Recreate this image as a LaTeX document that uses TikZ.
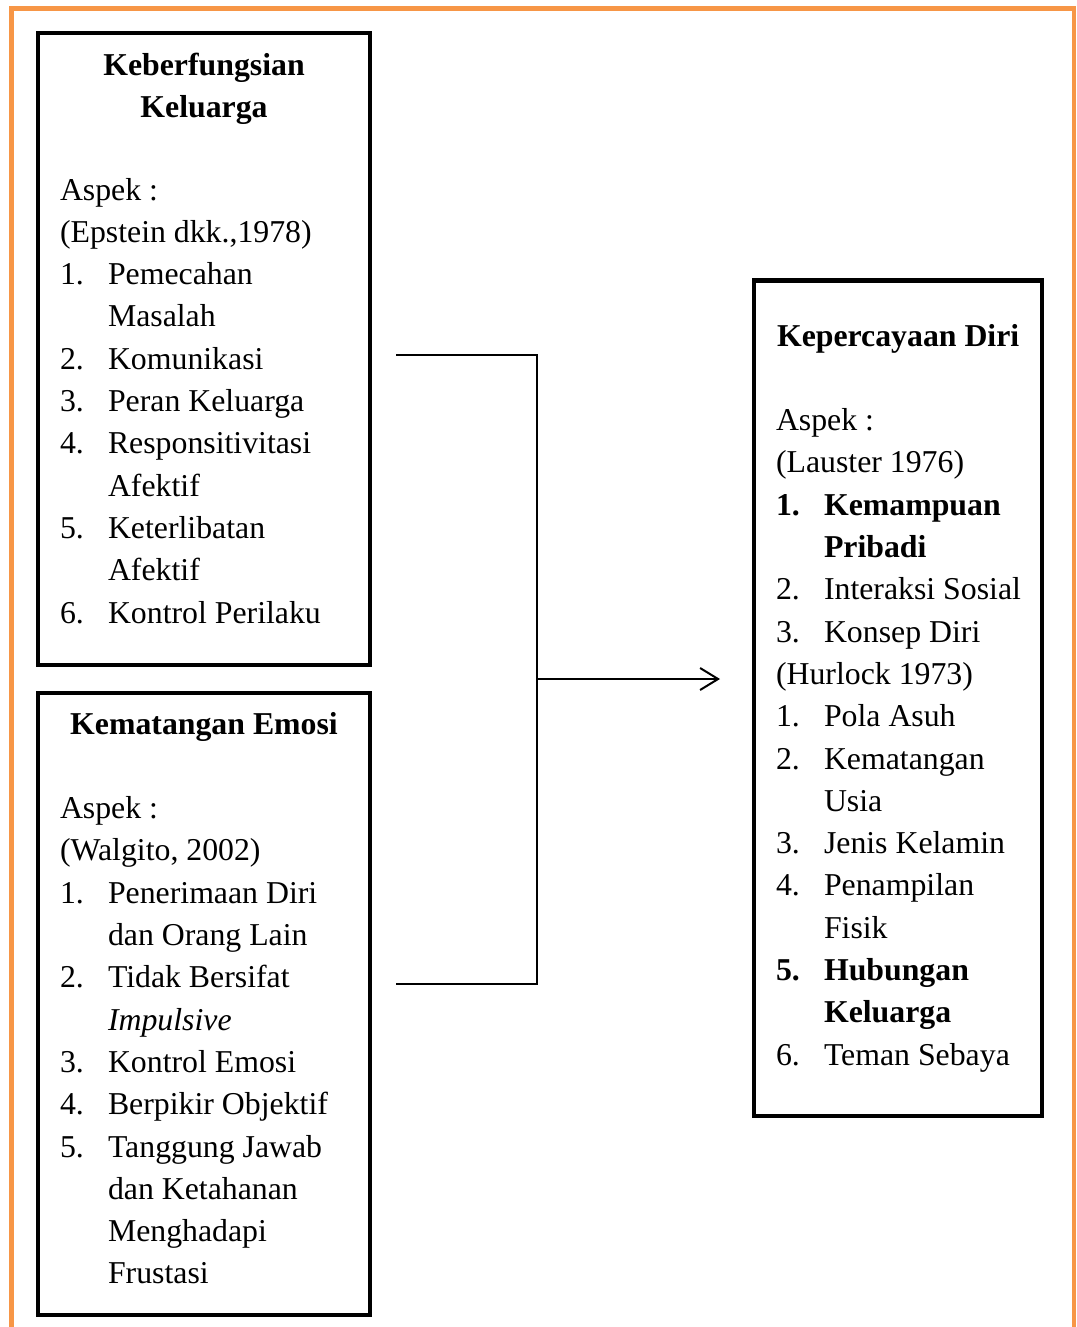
\documentclass[tikz,border=0pt]{standalone}
\usepackage{fontspec}
\setmainfont{Liberation Serif}
\usetikzlibrary{arrows.meta}
\definecolor{frameorange}{HTML}{F79646}
\begin{document}
\begin{tikzpicture}[x=1pt,y=-1pt,
  box/.style={draw=black,line width=4.5pt,inner sep=0pt,outer sep=0pt,rectangle},
  txt/.style={inner sep=0pt,outer sep=0pt,anchor=base west,font=\fontsize{31.8pt}{42.3pt}\selectfont},
  ttl/.style={inner sep=0pt,outer sep=0pt,anchor=base,font=\fontsize{31.8pt}{42.3pt}\selectfont\bfseries},
  bld/.style={txt,font=\fontsize{31.8pt}{42.3pt}\selectfont\bfseries},
  conn/.style={draw=black,line width=2pt},
  frame/.style={draw=frameorange,line width=4.5pt}]
\useasboundingbox (0,0) rectangle (1076,1327);
% orange frame
\draw[frame] (11.5,1330) -- (11.5,8.5) -- (1074,8.5) -- (1074,1330);
% boxes
\node[box,minimum width=332pt,minimum height=632pt] (b1) at (204,349) {};
\node[box,minimum width=332pt,minimum height=622pt] (b2) at (204,1004) {};
\node[box,minimum width=288pt,minimum height=835.5pt] (b3) at (898,698.25) {};
% box 1 text
\node[ttl] (t1a) at (204,75.5) {Keberfungsian};
\node[ttl] (t1b) at (204,117.8) {Keluarga};
\node[txt] (a1) at (60,200) {Aspek :};
\node[txt] (a2) at (60,242.3) {(Epstein dkk.,1978)};
\node[txt] (a3n) at (60,284.6) {1.};
\node[txt] (a3) at (108,284.6) {Pemecahan};
\node[txt] (a4) at (108,326.9) {Masalah};
\node[txt] (a5n) at (60,369.2) {2.};
\node[txt] (a5) at (108,369.2) {Komunikasi};
\node[txt] (a6n) at (60,411.5) {3.};
\node[txt] (a6) at (108,411.5) {Peran Keluarga};
\node[txt] (a7n) at (60,453.8) {4.};
\node[txt] (a7) at (108,453.8) {Responsitivitasi};
\node[txt] (a8) at (108,496.1) {Afektif};
\node[txt] (a9n) at (60,538.4) {5.};
\node[txt] (a9) at (108,538.4) {Keterlibatan};
\node[txt] (a10) at (108,580.7) {Afektif};
\node[txt] (a11n) at (60,623) {6.};
\node[txt] (a11) at (108,623) {Kontrol Perilaku};
% box 2 text
\node[ttl] (t2) at (204,734) {Kematangan Emosi};
\node[txt] (e1) at (60,818.6) {Aspek :};
\node[txt] (e2) at (60,860.9) {(Walgito, 2002)};
\node[txt] (e3n) at (60,903.2) {1.};
\node[txt] (e3) at (108,903.2) {Penerimaan Diri};
\node[txt] (e4) at (108,945.5) {dan Orang Lain};
\node[txt] (e5n) at (60,987.8) {2.};
\node[txt] (e5) at (108,987.8) {Tidak Bersifat};
\node[txt] (e6) at (108,1030.1) {\itshape Impulsive};
\node[txt] (e7n) at (60,1072.4) {3.};
\node[txt] (e7) at (108,1072.4) {Kontrol Emosi};
\node[txt] (e8n) at (60,1114.7) {4.};
\node[txt] (e8) at (108,1114.7) {Berpikir Objektif};
\node[txt] (e9n) at (60,1157) {5.};
\node[txt] (e9) at (108,1157) {Tanggung Jawab};
\node[txt] (e10) at (108,1199.3) {dan Ketahanan};
\node[txt] (e11) at (108,1241.6) {Menghadapi};
\node[txt] (e12) at (108,1283.9) {Frustasi};
% box 3 text
\node[bld] (t3) at (777,346) {Kepercayaan Diri};
\node[txt] (k1) at (776,430.6) {Aspek :};
\node[txt] (k2) at (776,472.9) {(Lauster 1976)};
\node[bld] (k3n) at (776,515.2) {1.};
\node[bld] (k3) at (824,515.2) {Kemampuan};
\node[bld] (k4) at (824,557.5) {Pribadi};
\node[txt] (k5n) at (776,599.8) {2.};
\node[txt] (k5) at (824,599.8) {Interaksi Sosial};
\node[txt] (k6n) at (776,642.1) {3.};
\node[txt] (k6) at (824,642.1) {Konsep Diri};
\node[txt] (k7) at (776,684.4) {(Hurlock 1973)};
\node[txt] (k8n) at (776,726.7) {1.};
\node[txt] (k8) at (824,726.7) {Pola Asuh};
\node[txt] (k9n) at (776,769) {2.};
\node[txt] (k9) at (824,769) {Kematangan};
\node[txt] (k10) at (824,811.3) {Usia};
\node[txt] (k11n) at (776,853.6) {3.};
\node[txt] (k11) at (824,853.6) {Jenis Kelamin};
\node[txt] (k12n) at (776,895.9) {4.};
\node[txt] (k12) at (824,895.9) {Penampilan};
\node[txt] (k13) at (824,938.2) {Fisik};
\node[bld] (k14n) at (776,980.5) {5.};
\node[bld] (k14) at (824,980.5) {Hubungan};
\node[bld] (k15) at (824,1022.8) {Keluarga};
\node[txt] (k16n) at (776,1065.1) {6.};
\node[txt] (k16) at (824,1065.1) {Teman Sebaya};
% connectors
\coordinate (j1) at (396,355);
\coordinate (c1) at (537,355);
\coordinate (j2) at (396,984);
\coordinate (c2) at (537,984);
\coordinate (mid) at (537,679);
\coordinate (tip) at (720,679);
\draw[conn,line join=miter] (j1) -- (c1) -- (c2) -- (j2);
\draw[conn,-{Straight Barb[length=18pt,width=22pt,line width=2pt]}] (mid) -- (tip);
\end{tikzpicture}
\end{document}
